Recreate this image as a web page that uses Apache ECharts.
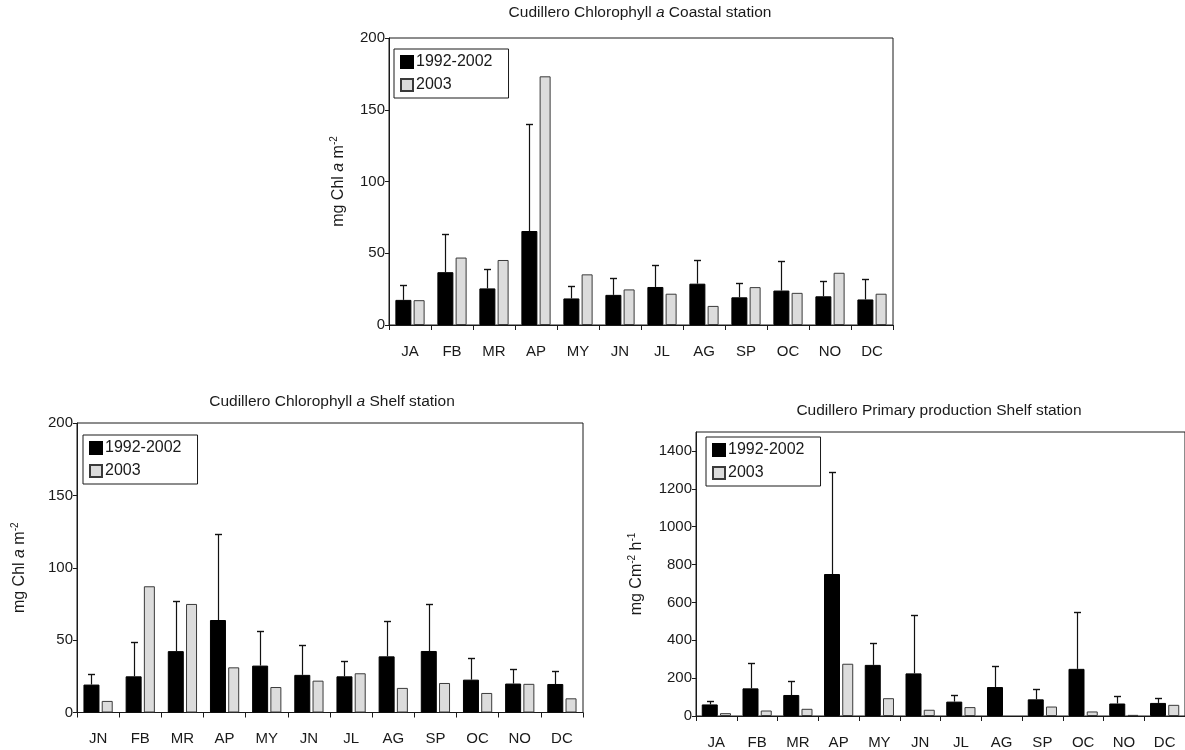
<!DOCTYPE html>
<html><head><meta charset="utf-8">
<script src="https://cdn.jsdelivr.net/npm/echarts@6/dist/echarts.min.js"></script>
<style>html,body{margin:0;padding:0;background:#fff}#c{width:1185px;height:750px}</style>
</head><body><div id="c"></div>
<script>
// ---- data ----
const monthsA = ['JA','FB','MR','AP','MY','JN','JL','AG','SP','OC','NO','DC'];
const monthsB = ['JN','FB','MR','AP','MY','JN','JL','AG','SP','OC','NO','DC'];
const seriesNames = ['1992-2002', '2003'];

// Coastal station chlorophyll
const coastalMean = [17.5, 36.8, 25.5, 65.5, 18.5, 21, 26.5, 28.8, 19.3, 24, 20, 17.8];
const coastalErrTop = [27.8, 63.2, 39.3, 139.8, 27, 33, 41.8, 45.5, 29.2, 44.5, 30.4, 32.2];
const coastal2003 = [17.3, 47, 45.3, 173.3, 35.3, 24.8, 21.8, 13.3, 26.4, 22.4, 36.4, 21.8];

// Shelf station chlorophyll
const shelfMean = [19.3, 25, 42.4, 63.9, 32.4, 26, 25, 38.8, 42.5, 22.7, 20, 19.7];
const shelfErrTop = [26.4, 49, 77.2, 123.3, 56.3, 46.8, 35.8, 63.2, 75, 37.8, 30, 29];
const shelf2003 = [8, 87.2, 75, 31.2, 17.6, 22, 27.1, 17, 20.4, 13.5, 19.8, 9.8];

// Shelf station primary production
const ppMean = [61, 146, 111, 750, 270, 225, 76, 153, 88, 249, 66, 69];
const ppErrTop = [79, 280, 184, 1288, 384, 533, 113, 262, 140, 548, 106, 94];
const pp2003 = [15, 29, 38, 276, 94, 33, 47, null, 50, 24, 6, 59];

const chlTicks = [0, 50, 100, 150, 200];
const ppTicks = [0, 200, 400, 600, 800, 1000, 1200, 1400];

// ---- style ----
const FONT = 'Liberation Sans, Arial, Helvetica, sans-serif';
const INK = '#1a1a1a';
const BW_BLACK = 16, BW_GRAY = 11, GAP_PCT = 0.14;
const errOffset = -(BW_BLACK * (1 + GAP_PCT) + BW_GRAY) / 2 + BW_BLACK / 2;

const nameRich = {
  n: {fontSize: 16, fontFamily: FONT, color: INK, lineHeight: 20, verticalAlign: 'middle'},
  i: {fontSize: 16, fontFamily: FONT, color: INK, fontStyle: 'italic', lineHeight: 20, verticalAlign: 'middle'},
  s: {fontSize: 10, fontFamily: FONT, color: INK, lineHeight: 20, verticalAlign: 'top'}
};

const grids = [
  {left: 389, top: 38, width: 504, height: 287},
  {left: 77, top: 423, width: 506, height: 289.5},
  {left: 696, top: 432, width: 494, height: 285}
];

function xAxisCfg(gi, cats) {
  return {
    type: 'category', gridIndex: gi, data: cats, boundaryGap: true,
    axisLine: {lineStyle: {color: INK, width: 1}},
    axisTick: {show: true, length: 5, interval: 0, lineStyle: {color: INK}},
    axisLabel: {interval: 0, margin: 19, color: INK, fontSize: 15, fontFamily: FONT},
    splitLine: {show: false}
  };
}
function yAxisCfg(gi, max, interval, ticks, name, gap) {
  return {
    type: 'value', gridIndex: gi, min: 0, max: max, interval: interval,
    axisLine: {show: true, lineStyle: {color: INK, width: 1}},
    axisTick: {show: true, length: 4, lineStyle: {color: INK}, customValues: ticks},
    axisLabel: {margin: 4, color: INK, fontSize: 15, fontFamily: FONT, customValues: ticks,
                formatter: v => String(v)},
    splitLine: {show: false},
    name: name, nameLocation: 'middle', nameGap: gap, nameRotate: 90,
    nameTextStyle: {rich: nameRich}
  };
}
function barSeries(gi, name, data, isBlack) {
  return {
    type: 'bar', name: name, xAxisIndex: gi, yAxisIndex: gi, data: data,
    barWidth: isBlack ? BW_BLACK : BW_GRAY, barGap: (GAP_PCT * 100) + '%',
    itemStyle: isBlack ? {color: '#000', borderColor: '#000', borderWidth: 1}
                       : {color: '#dcdcdc', borderColor: '#3a3a3a', borderWidth: 1},
    z: 2
  };
}
function errSeries(gi, means, tops) {
  return {
    type: 'custom', name: 'err' + gi, xAxisIndex: gi, yAxisIndex: gi, silent: true, z: 5,
    encode: {x: 0, y: [1, 2]},
    data: means.map((m, i) => [i, m, tops[i]]),
    renderItem: function (params, api) {
      const a = api.coord([api.value(0), api.value(1)]);
      const b = api.coord([api.value(0), api.value(2)]);
      const x = Math.round(a[0] + errOffset) + 0.5;
      const yt = Math.round(b[1]) + 0.5;
      return {type: 'group', children: [
        {type: 'line', shape: {x1: x, y1: a[1], x2: x, y2: yt}, style: {stroke: '#111', lineWidth: 1.2}},
        {type: 'line', shape: {x1: x - 3.5, y1: yt, x2: x + 3.5, y2: yt}, style: {stroke: '#111', lineWidth: 1.4}}
      ]};
    }
  };
}
function legendCfg(left, top) {
  return {
    data: seriesNames, orient: 'vertical', left: left, top: top,
    itemWidth: 12, itemHeight: 12, itemGap: 7, icon: 'rect',
    padding: [5, 16, 5, 6], borderColor: INK, borderWidth: 1, borderRadius: 0,
    textStyle: {fontSize: 16, fontFamily: FONT, color: INK, padding: [0, 0, 0, -2]},
    selectedMode: false
  };
}
const titleRich = {
  n: {fontSize: 15.5, fontFamily: FONT, color: INK},
  i: {fontSize: 15.5, fontFamily: FONT, color: INK, fontStyle: 'italic'}
};
function titleGraphic(x, y, text) {
  return {type: 'text', x: x, y: y, silent: true,
    style: {text: text, rich: titleRich, align: 'center', verticalAlign: 'middle',
            textAlign: 'center', textVerticalAlign: 'middle', fill: INK, font: '15.5px ' + FONT}};
}

const chart = echarts.init(document.getElementById('c'), null, {renderer: 'canvas'});
chart.setOption({
  animation: false,
  backgroundColor: '#fff',
  grid: grids.map(g => Object.assign({show: true, borderColor: INK, borderWidth: 1, backgroundColor: 'transparent', containLabel: false}, g)),
  xAxis: [xAxisCfg(0, monthsA), xAxisCfg(1, monthsB), xAxisCfg(2, monthsA)],
  yAxis: [
    yAxisCfg(0, 200, 50, chlTicks, '{n|mg Chl }{i|a}{n| m}{s|-2}', 40),
    yAxisCfg(1, 200, 50, chlTicks, '{n|mg Chl }{i|a}{n| m}{s|-2}', 47),
    yAxisCfg(2, 1500, 100, ppTicks, '{n|mg Cm}{s|-2}{n| h}{s|-1}', 49)
  ],
  legend: [legendCfg(394, 49), legendCfg(83, 435), legendCfg(706, 437)],
  graphic: [
    titleGraphic(640, 13, '{n|Cudillero Chlorophyll }{i|a}{n| Coastal station}'),
    titleGraphic(332, 402, '{n|Cudillero Chlorophyll }{i|a}{n| Shelf station}'),
    titleGraphic(939, 411, '{n|Cudillero Primary production Shelf station}')
  ],
  series: [
    barSeries(0, seriesNames[0], coastalMean, true),
    barSeries(0, seriesNames[1], coastal2003, false),
    errSeries(0, coastalMean, coastalErrTop),
    barSeries(1, seriesNames[0], shelfMean, true),
    barSeries(1, seriesNames[1], shelf2003, false),
    errSeries(1, shelfMean, shelfErrTop),
    barSeries(2, seriesNames[0], ppMean, true),
    barSeries(2, seriesNames[1], pp2003, false),
    errSeries(2, ppMean, ppErrTop)
  ]
});
</script>
</body></html>
